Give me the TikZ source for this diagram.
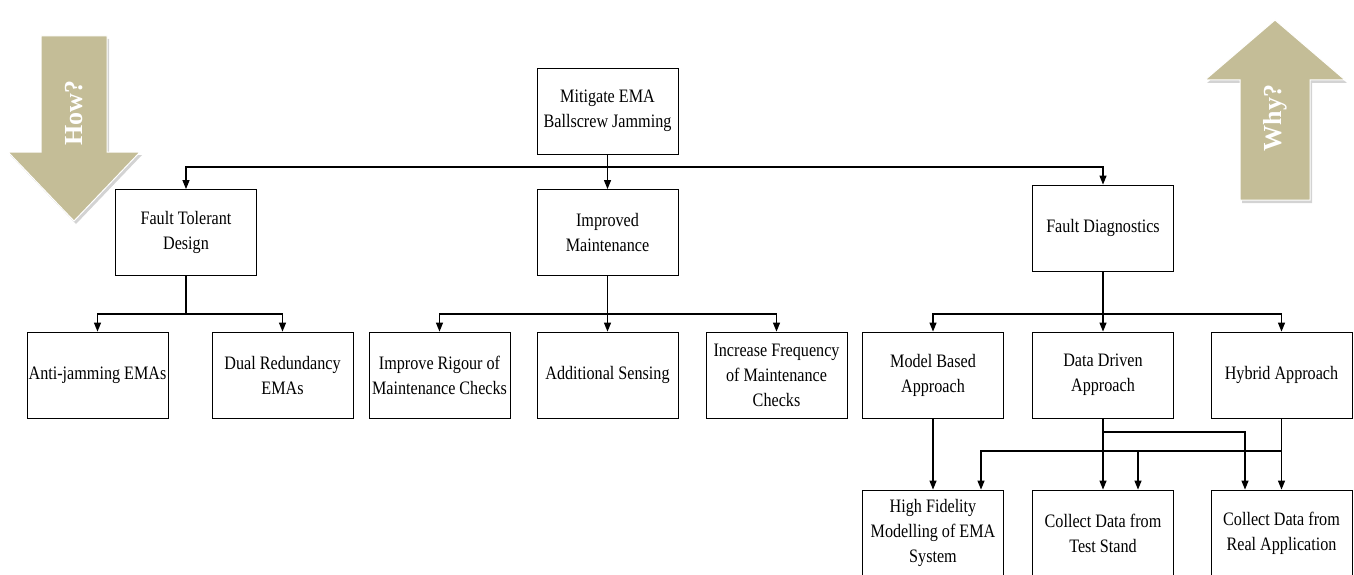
\documentclass[tikz,border=0pt]{standalone}
\usepackage{fontspec}
\setmainfont{Liberation Serif}[FakeStretch=0.85]
\newfontfamily\arrowfont{Liberation Serif}
\usepackage{tikz}
\usetikzlibrary{arrows.meta, positioning, calc, shadows}
\definecolor{arrowtan}{HTML}{C4BD97}

\begin{document}
\begin{tikzpicture}[x=1pt, y=-1pt,
  box/.style={draw, line width=0.8pt, minimum width=141pt, minimum height=86pt, align=center, inner sep=1pt, font=\fontsize{19}{25}\selectfont},
  conn/.style={line width=1.2pt, -{Triangle[length=9pt, width=7pt]}},
  bigarrow/.style={fill=arrowtan, draw=white, line width=1pt, drop shadow={shadow xshift=2pt, shadow yshift=-3pt, opacity=0.35, fill=gray}},
  arrowtext/.style={rotate=90, text=white, font=\arrowfont\bfseries\fontsize{26}{26}\selectfont}
]
  \useasboundingbox (0,0) rectangle (1354,575);

  % How / Why arrows
  \fill[bigarrow] (41,36) -- (107,36) -- (107,152) -- (140,152) -- (74,221) -- (8,152) -- (41,152) -- cycle;
  \node[arrowtext] (how) at (74,113) {How?};
  \fill[bigarrow] (1275,20) -- (1345,80) -- (1310,80) -- (1310,200) -- (1240,200) -- (1240,80) -- (1205,80) -- cycle;
  \node[arrowtext] (why) at (1275,118) {Why?};

  % Goal
  \node[box] (root) at (607.5,111) {Mitigate EMA\\Ballscrew Jamming};

  % Strategies
  \node[box] (ftd) at (186,232.5) {Fault Tolerant\\Design};
  \node[box] (imp) at (607.5,232.5) {Improved\\Maintenance};
  \node[box] (fdg) at (1103,228) {Fault Diagnostics};

  % Solutions
  \node[box] (aj) at (97.5,375) {Anti-jamming EMAs};
  \node[box] (dr) at (282.5,375) {Dual Redundancy\\EMAs};
  \node[box] (ir) at (439.5,375) {Improve Rigour of\\Maintenance Checks};
  \node[box] (as) at (607.5,375) {Additional Sensing};
  \node[box] (if) at (776.5,375) {Increase Frequency\\of Maintenance\\Checks};
  \node[box] (mb) at (933,375) {Model Based\\Approach};
  \node[box] (dd) at (1103,375) {Data Driven\\Approach};
  \node[box] (hy) at (1281.5,375) {Hybrid Approach};

  % Data sources
  \node[box] (hf) at (933,533) {High Fidelity\\Modelling of EMA\\System};
  \node[box] (ts) at (1103,533) {Collect Data from\\Test Stand};
  \node[box] (ra) at (1281.5,533) {Collect Data from\\Real Application};

  % Junctions
  \coordinate (j0) at (root.south |- 0,167);
  \coordinate (j1) at (ftd.south |- 0,314);
  \coordinate (j2) at (imp.south |- 0,314);
  \coordinate (j3) at (fdg.south |- 0,314);
  \coordinate (j4) at (dd.south |- 0,432);
  \coordinate (j5) at (hy.south |- 0,451);

  % Arrows
  \draw[line width=1.2pt] (root.south) -- (j0);
  \draw[conn] (j0) -| (ftd.north);
  \draw[conn] (j0) -- (imp.north);
  \draw[conn] (j0) -| (fdg.north);

  \draw[line width=1.2pt] (ftd.south) -- (j1);
  \draw[conn] (j1) -| (aj.north);
  \draw[conn] (j1) -| (dr.north);

  \draw[line width=1.2pt] (imp.south) -- (j2);
  \draw[conn] (j2) -| (ir.north);
  \draw[conn] (j2) -- (as.north);
  \draw[conn] (j2) -| (if.north);

  \draw[line width=1.2pt] (fdg.south) -- (j3);
  \draw[conn] (j3) -| (mb.north);
  \draw[conn] (j3) -- (dd.north);
  \draw[conn] (j3) -| (hy.north);

  \draw[conn] (mb.south) -- (hf.north);
  \draw[conn] (dd.south) -- (ts.north);
  \draw[conn] (j4) -| ($(ra.north)+(-36.5,0)$);
  \draw[conn] (hy.south) -- (ra.north);
  \draw[conn] (j5) -| ($(hf.north)+(48,0)$);
  \draw[conn] (j5) -| ($(ts.north)+(35,0)$);

\end{tikzpicture}
\end{document}
